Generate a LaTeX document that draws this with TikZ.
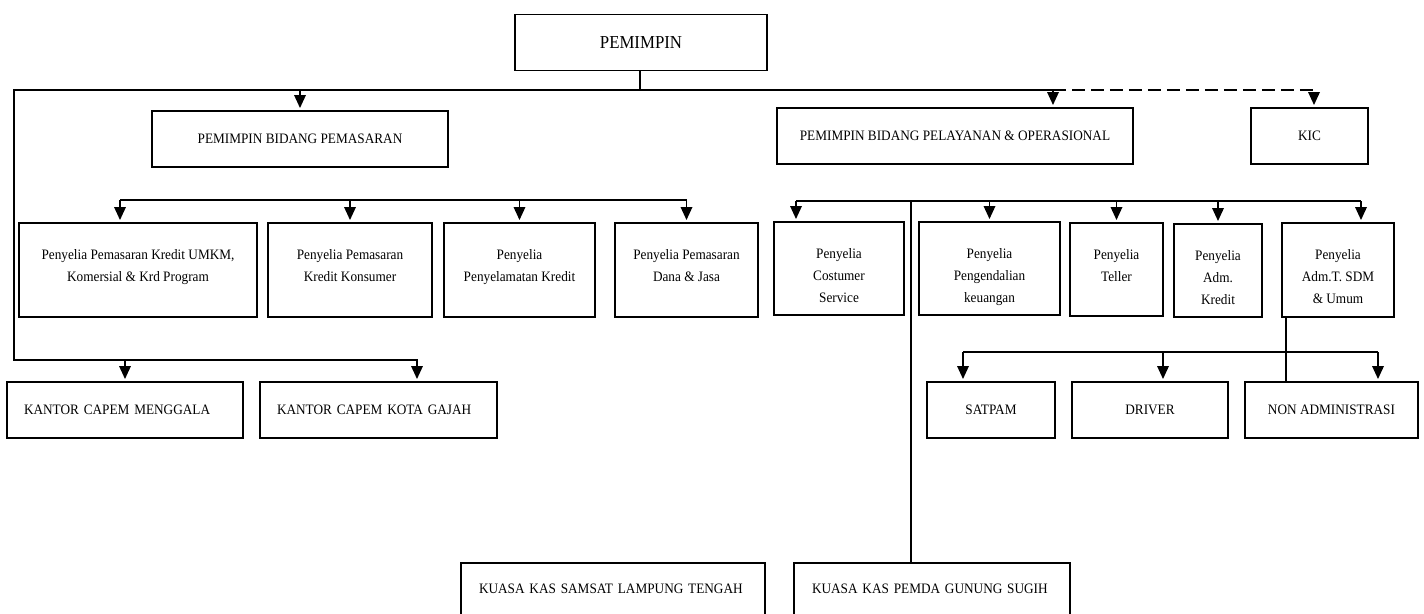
\documentclass[tikz,border=0pt]{standalone}
\usepackage{fontspec}
\setmainfont{Liberation Serif}[FakeStretch=0.92]
\usetikzlibrary{calc,arrows.meta}

\begin{document}
\begin{tikzpicture}[x=0.02cm, y=-0.02cm,
    unit/.style 2 args={draw, line width=1.1pt, inner sep=0pt, minimum width=#1*0.02cm, minimum height=#2*0.02cm, align=center, font=\fontsize{8.2}{12.6}\selectfont},
    topline/.style={label={[anchor=north, align=center, inner sep=0pt, yshift=-27*0.02cm, font=\fontsize{8.2}{12.6}\selectfont]north:#1}},
    link/.style={line width=1pt},
    thinlink/.style={line width=0.6pt},
    arrow/.style={link, -{Triangle[length=0.26cm, width=0.23cm]}, shorten >=0.04cm}]

        \useasboundingbox (0,0) rectangle (1424,613);
        \clip (0,0) rectangle (1424,613);

        % top level
        \node[unit={252}{56}, font=\fontsize{10.4}{13}\selectfont] (pim) at (641,42.5) {PEMIMPIN};
        \node[unit={296}{56}] (pbp) at (300,139) {PEMIMPIN BIDANG PEMASARAN};
        \node[unit={356}{56}] (pbpo) at (955,136) {PEMIMPIN BIDANG PELAYANAN \& OPERASIONAL};
        \node[unit={117}{56}] (kic) at (1309.5,136) {KIC};

        % bidang pemasaran
        \node[unit={238}{94}, topline={{Penyelia Pemasaran Kredit UMKM,\\Komersial \& Krd Program}}] (pkum) at (138,270) {};
        \node[unit={164}{94}, topline={{Penyelia Pemasaran\\Kredit Konsumer}}] (pkk) at (350,270) {};
        \node[unit={151}{94}, topline={{Penyelia\\Penyelamatan Kredit}}] (ppk) at (519.5,270) {};
        \node[unit={143}{94}, topline={{Penyelia Pemasaran\\Dana \& Jasa}}] (pdj) at (686.5,270) {};

        % kantor capem
        \node[unit={236}{56}, align=left, text width=4.04cm, inner xsep=0.34cm] (kcm) at (125,410) {KANTOR CAPEM MENGGALA};
        \node[unit={237}{56}, align=left, text width=4.06cm, inner xsep=0.34cm] (kckg) at (378.5,410) {KANTOR CAPEM KOTA GAJAH};

        % bidang pelayanan & operasional
        \node[unit={130}{93}, topline={{Penyelia\\Costumer\\Service}}] (pcs) at (839,268.5) {};
        \node[unit={141}{93}, topline={{Penyelia\\Pengendalian\\keuangan}}] (ppku) at (989.5,268.5) {};
        \node[unit={93}{93}, topline={{Penyelia\\Teller}}] (ptel) at (1116.5,269.5) {};
        \node[unit={88}{93}, topline={{Penyelia\\Adm.\\Kredit}}] (pak) at (1218,270.5) {};
        \node[unit={112}{94}, topline={{Penyelia\\Adm.T. SDM\\\& Umum}}] (psdm) at (1338,270) {};

        \node[unit={128}{56}] (sat) at (991,410) {SATPAM};
        \node[unit={156}{56}] (drv) at (1150,410) {DRIVER};
        \node[unit={173}{56}] (non) at (1331.5,410) {NON ADMINISTRASI};

        % kuasa kas
        \node[unit={304}{52}, align=left, text width=5.36cm, inner xsep=0.36cm] (kslt) at (613,589) {KUASA KAS SAMSAT LAMPUNG TENGAH};
        \node[unit={276}{52}, align=left, text width=4.8cm, inner xsep=0.36cm] (kpgs) at (932,589) {KUASA KAS PEMDA GUNUNG SUGIH};

        % buses
        \coordinate (tbus) at (640,90);
        \coordinate (cbus) at (14,360);
        \coordinate (mbus) at (0,200);
        \coordinate (obus) at (0,201);
        \coordinate (sbus) at (0,352);

        \coordinate (pbpoin) at ($(pbpo.north)+(98,0)$);
        \coordinate (kckgin) at ($(kckg.north)+(38.5,0)$);
        \coordinate (pkumin) at ($(pkum.north)+(-18,0)$);
        \coordinate (pcsin) at ($(pcs.north)+(-43,0)$);
        \coordinate (psdmin) at ($(psdm.north)+(23,0)$);
        \coordinate (kpgsin) at ($(kpgs.north)+(-21,0)$);
        \coordinate (satin) at ($(sat.north)+(-28,0)$);
        \coordinate (drvin) at ($(drv.north)+(13,0)$);
        \coordinate (nonin) at ($(non.north)+(46.5,0)$);
        \coordinate (sdmfoot) at ($(psdm.south)+(-52,0)$);

        \draw[link] (pim.south -| tbus) -- (tbus);
        \draw[arrow] (tbus) -| (pbpoin);
        \draw[arrow] (tbus) -| (cbus) -| (kckgin);
        \draw[arrow] (pbp.north |- tbus) -- (pbp.north);
        \draw[arrow] (kcm.north |- cbus) -- (kcm.north);
        \draw[arrow, dash pattern=on 0.26cm off 0.12cm] (pbpoin |- tbus) -| ($(kic.north)+(4.5,0)$);

        \draw[link] (pkumin |- mbus) -- (pdj.north |- mbus);
        \foreach \t in {pkumin, pkk.north, ppk.north, pdj.north}
            \draw[arrow] (\t |- mbus) -- (\t);

        \draw[link] (pcsin |- obus) -- (psdmin |- obus);
        \foreach \t in {pcsin, ppku.north, ptel.north, pak.north, psdmin}
            \draw[arrow] (\t |- obus) -- (\t);
        \draw[thinlink] (kpgsin |- obus) -- (kpgsin);

        \draw[link] (satin |- sbus) -- (nonin |- sbus);
        \foreach \t in {satin, drvin, nonin}
            \draw[arrow] (\t |- sbus) -- (\t);
        \draw[thinlink] (sdmfoot) -- (sdmfoot |- non.north);

    \end{tikzpicture}
\end{document}
